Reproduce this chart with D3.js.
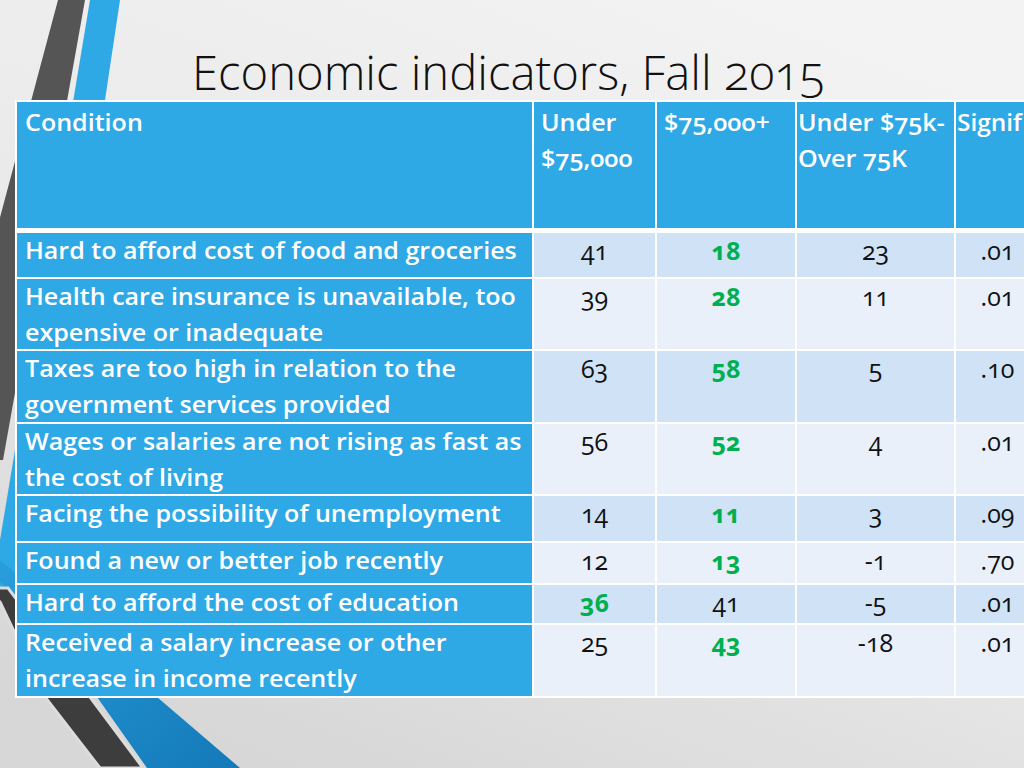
<!DOCTYPE html>
<html><head><meta charset="utf-8">
<script src="https://cdn.jsdelivr.net/npm/d3@7"></script>
<style>
body{margin:0;overflow:hidden;background:#e6e6e6}
svg{display:block}
text{font-family:"Open Sans","DejaVu Sans",sans-serif;font-variant-numeric:oldstyle-nums;font-feature-settings:"onum" 1}
</style>
</head><body>
<svg id="c" width="1024" height="768"></svg>
<script>
// ---------------- data ----------------
const title = "Economic indicators, Fall 2015";
const headers = [["Condition"], ["Under", "$75,000"], ["$75,000+"], ["Under $75k-", "Over 75K"], ["Signif"]];
const conditions = [
  ["Hard to afford cost of food and groceries"],
  ["Health care insurance is unavailable, too", "expensive or inadequate"],
  ["Taxes are too high in relation to the", "government services provided"],
  ["Wages or salaries are not rising as fast as", "the cost of living"],
  ["Facing the possibility of unemployment"],
  ["Found a new or better job recently"],
  ["Hard to afford the cost of education"],
  ["Received a salary increase or other", "increase in income recently"]
];
const under75 = [41, 39, 63, 56, 14, 12, 36, 25];
const over75 = [18, 28, 58, 52, 11, 13, 41, 43];
const difference = [23, 11, 5, 4, 3, -1, -5, -18];
const significance = [".01", ".01", ".10", ".01", ".09", ".70", ".01", ".01"];
const highlightUnder = [6];
const highlightOver = [0, 1, 2, 3, 4, 5, 7];

// ---------------- layout ----------------
const W = 1024, H = 768;
const colEdges = [17, 533, 656, 796, 955, 1045];
const headPad = [8, 8, 8, 2, 2];
const headTop = 102, headBottom = 228;
const rowEdges = [232, 278, 350, 423, 495, 542, 584, 624, 697];
const BLUE = "#2fa8e6", GREEN = "#00b050";
const svg = d3.select("#c");

const cols = d3.range(colEdges.length - 1);
const rows = d3.range(conditions.length);
const xL = d3.scaleOrdinal().domain(cols).range(colEdges.slice(0, -1));
const xR = d3.scaleOrdinal().domain(cols).range(colEdges.slice(1));
const yT = d3.scaleOrdinal().domain(rows).range(rowEdges.slice(0, -1));
const yB = d3.scaleOrdinal().domain(rows).range(rowEdges.slice(1));

// background
const defs = svg.append("defs");
const bg = defs.append("linearGradient").attr("id", "bg").attr("x1", "0.8").attr("y1", "0").attr("x2", "0.3").attr("y2", "1");
bg.append("stop").attr("offset", "0").attr("stop-color", "#f3f3f3");
bg.append("stop").attr("offset", "0.55").attr("stop-color", "#e9e9e9");
bg.append("stop").attr("offset", "1").attr("stop-color", "#d7d7d7");
const rb = defs.append("linearGradient").attr("id", "rb").attr("x1", "0").attr("y1", "0").attr("x2", "1").attr("y2", "1");
rb.append("stop").attr("offset", "0").attr("stop-color", "#2a9fdd");
rb.append("stop").attr("offset", "1").attr("stop-color", "#1479b8");
svg.append("rect").attr("width", W).attr("height", H).attr("fill", "url(#bg)");

// decorative stripes
const line = d3.line();
svg.append("path").attr("fill", "#555555").attr("d", line([[58, 0], [85, 0], [3, 460], [-30, 460], [-30, 330]]) + "Z");
svg.append("path").attr("fill", BLUE).attr("d", line([[90, 0], [120, 0], [30, 600], [-10, 600]]) + "Z");
svg.append("path").attr("fill", "url(#rb)").attr("d", line([[-5, 575], [97, 697], [147, 768], [240, 768], [157, 697], [60, 610], [0, 560]]) + "Z");
svg.append("path").attr("fill", "#3d3d3d").attr("stroke", "#dcdcdc").attr("stroke-width", 3)
  .attr("d", line([[-30, 598], [0, 602], [45, 697], [100, 768], [143, 768], [90, 697], [40, 630], [8, 588], [-30, 588]]) + "Z");

// table base (white grid)
svg.append("rect").attr("x", colEdges[0] - 2).attr("y", headTop - 2)
  .attr("width", colEdges[colEdges.length - 1] - colEdges[0] + 4)
  .attr("height", rowEdges[rowEdges.length - 1] - headTop + 3).attr("fill", "#ffffff");

// header cells
svg.append("g").selectAll("rect").data(cols).join("rect")
  .attr("x", c => xL(c) + (c ? 1 : 0)).attr("y", headTop)
  .attr("width", c => xR(c) - xL(c) - (c ? 2 : 1)).attr("height", headBottom - headTop)
  .attr("fill", BLUE);

// body cells
const cells = [];
rows.forEach(r => cols.forEach(c => cells.push({ r, c })));
svg.append("g").selectAll("rect").data(cells).join("rect")
  .attr("x", d => xL(d.c) + (d.c ? 1 : 0)).attr("y", d => yT(d.r) + 1)
  .attr("width", d => xR(d.c) - xL(d.c) - (d.c ? 2 : 1)).attr("height", d => yB(d.r) - yT(d.r) - 2)
  .attr("fill", d => d.c === 0 ? BLUE : (d.r % 2 === 0 ? "#cfe2f6" : "#e9f0fa"));

// measure label scale
const probe = svg.append("text").attr("font-size", 23).attr("font-weight", 600).text(conditions[0][0]);
const sx = 492 / probe.node().getComputedTextLength();
probe.remove();

// header text
const headG = svg.append("g");
headers.forEach((lines, c) => {
  lines.forEach((t, i) => {
    const x0 = xL(c) + headPad[c];
    const tx = headG.append("text")
      .attr("font-size", 23).attr("font-weight", 600).attr("fill", "#ffffff").text(t);
    let s = sx;
    const w = tx.node().getComputedTextLength() * sx;
    if (x0 + w > W - 2) s = sx * (W - 2 - x0) / w;
    tx.attr("transform", `translate(${x0},${headTop + 29 + i * 36}) scale(${s},1)`);
  });
});

// label text
const labG = svg.append("g");
rows.forEach(r => {
  conditions[r].forEach((t, i) => {
    labG.append("text")
      .attr("transform", `translate(${xL(0) + 8},${yT(r) + 27 + i * 36}) scale(${sx},1)`)
      .attr("font-size", 23).attr("font-weight", 600).attr("fill", "#ffffff").text(t);
  });
});

// numeric cells
const valueCols = [
  { c: 1, vals: under75, hi: highlightUnder },
  { c: 2, vals: over75, hi: highlightOver },
  { c: 3, vals: difference, hi: [] },
  { c: 4, vals: significance, hi: [] }
];
const numData = [];
valueCols.forEach(vc => vc.vals.forEach((v, r) => numData.push({ c: vc.c, r, v, hi: vc.hi.includes(r) })));
svg.append("g").selectAll("text").data(numData).join("text")
  .attr("x", d => (xL(d.c) + Math.min(xR(d.c), d.c === 4 ? 1040 : 9999)) / 2)
  .attr("y", d => yT(d.r) + 28)
  .attr("text-anchor", "middle")
  .attr("font-size", 25)
  .attr("font-weight", d => d.hi ? 700 : 400)
  .attr("fill", d => d.hi ? GREEN : "#111111")
  .text(d => typeof d.v === "number" ? String(d.v) : d.v);

// title
svg.append("text").attr("x", 192).attr("y", 90)
  .attr("font-size", 47).attr("font-weight", 300).attr("fill", "#111111")
  .attr("textLength", 633).attr("lengthAdjust", "spacingAndGlyphs")
  .text(title);
</script>
</body></html>
